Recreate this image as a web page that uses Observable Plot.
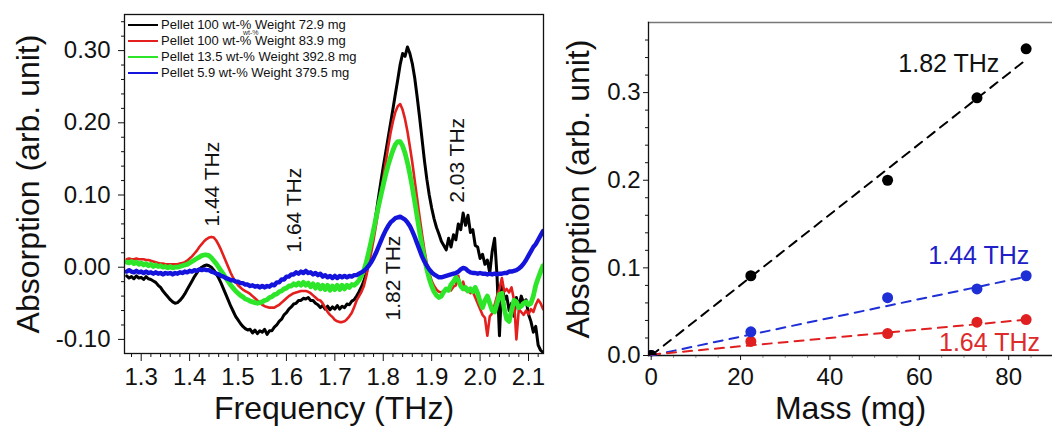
<!DOCTYPE html>
<html><head><meta charset="utf-8">
<script src="https://cdn.jsdelivr.net/npm/d3@7"></script>
<script src="https://cdn.jsdelivr.net/npm/@observablehq/plot@0.6"></script>
<style>
body{margin:0;background:#fff;font-family:"Liberation Sans",Arial,sans-serif;}
#wrap{position:relative;width:1052px;height:426px;display:flex;overflow:hidden;background:#fff}
#wrap svg{display:block}
.legend{position:absolute;left:128px;top:17px;font-size:13px;line-height:16px;color:#111;font-family:"Liberation Sans",Arial,sans-serif}
.legend div{display:flex;align-items:center;height:16px;white-space:nowrap}
.legend span.sw{display:inline-block;width:30px;height:2px;margin-right:3px}
.glitch{position:absolute;left:243px;top:29px;font-size:7px;color:#333;font-family:"Liberation Sans",Arial,sans-serif}
</style></head><body><div id="wrap"></div>
<script>
// ---------- Left panel: absorption spectra ----------
const freq = [1.270,1.275,1.280,1.285,1.290,1.295,1.300,1.305,1.310,1.315,
1.320,1.325,1.330,1.335,1.340,1.345,1.350,1.355,1.360,1.365,
1.370,1.375,1.380,1.385,1.390,1.395,1.400,1.405,1.410,1.415,
1.420,1.425,1.430,1.435,1.440,1.445,1.450,1.455,1.460,1.465,
1.470,1.475,1.480,1.485,1.490,1.495,1.500,1.505,1.510,1.515,
1.520,1.525,1.530,1.535,1.540,1.545,1.550,1.555,1.560,1.565,
1.570,1.575,1.580,1.585,1.590,1.595,1.600,1.605,1.610,1.615,
1.620,1.625,1.630,1.635,1.640,1.645,1.650,1.655,1.660,1.665,
1.670,1.675,1.680,1.685,1.690,1.695,1.700,1.705,1.710,1.715,
1.720,1.725,1.730,1.735,1.740,1.745,1.750,1.755,1.760,1.765,
1.770,1.775,1.780,1.785,1.790,1.795,1.800,1.805,1.810,1.815,
1.820,1.825,1.830,1.835,1.840,1.845,1.850,1.855,1.860,1.865,
1.870,1.875,1.880,1.885,1.890,1.895,1.900,1.905,1.910,1.915,
1.920,1.925,1.930,1.935,1.940,1.945,1.950,1.955,1.960,1.965,
1.970,1.975,1.980,1.985,1.990,1.995,2.000,2.005,2.010,2.015,
2.020,2.025,2.030,2.035,2.040,2.045,2.050,2.055,2.060,2.065,
2.070,2.075,2.080,2.085,2.090,2.095,2.100,2.105,2.110,2.115,
2.120,2.125,2.130];

const absP100w729 = [-0.012,-0.015,-0.013,-0.016,-0.012,-0.015,-0.014,-0.017,-0.013,-0.016,
-0.017,-0.019,-0.021,-0.025,-0.028,-0.033,-0.037,-0.041,-0.045,-0.048,
-0.050,-0.049,-0.046,-0.042,-0.037,-0.031,-0.025,-0.019,-0.013,-0.008,
-0.003,0.000,0.002,0.003,0.002,0.000,-0.004,-0.009,-0.015,-0.022,
-0.030,-0.038,-0.046,-0.054,-0.061,-0.068,-0.073,-0.078,-0.082,-0.085,
-0.087,-0.086,-0.091,-0.087,-0.092,-0.088,-0.090,-0.086,-0.093,-0.088,
-0.088,-0.083,-0.080,-0.075,-0.072,-0.066,-0.063,-0.058,-0.055,-0.051,
-0.050,-0.046,-0.046,-0.043,-0.044,-0.042,-0.046,-0.046,-0.050,-0.052,
-0.056,-0.053,-0.058,-0.054,-0.059,-0.055,-0.058,-0.053,-0.058,-0.054,
-0.056,-0.051,-0.052,-0.047,-0.045,-0.040,-0.034,-0.027,-0.019,-0.008,
0.008,0.028,0.050,0.073,0.096,0.118,0.139,0.159,0.179,0.199,
0.219,0.240,0.260,0.281,0.296,0.292,0.305,0.296,0.282,0.262,
0.236,0.208,0.178,0.148,0.122,0.100,0.082,0.067,0.055,0.046,
0.036,0.030,0.024,0.040,0.028,0.045,0.038,0.060,0.052,0.075,
0.058,0.072,0.048,0.052,0.030,0.028,0.012,0.018,0.004,0.010,
-0.008,0.022,0.040,-0.012,-0.095,-0.020,-0.045,-0.040,-0.060,-0.050,
-0.068,-0.042,-0.055,-0.040,-0.050,-0.045,-0.065,-0.075,-0.090,-0.082,
-0.108,-0.115,-0.118];

const absP100w839 = [0.011,0.012,0.011,0.011,0.012,0.011,0.011,0.011,0.010,0.010,
0.009,0.008,0.007,0.006,0.005,0.005,0.004,0.004,0.004,0.004,
0.004,0.004,0.005,0.006,0.007,0.009,0.012,0.015,0.019,0.023,
0.028,0.032,0.036,0.039,0.041,0.042,0.041,0.037,0.031,0.024,
0.016,0.008,0.000,-0.008,-0.015,-0.020,-0.025,-0.028,-0.031,-0.033,
-0.035,-0.037,-0.040,-0.043,-0.046,-0.049,-0.052,-0.054,-0.055,-0.056,
-0.056,-0.056,-0.054,-0.052,-0.049,-0.046,-0.043,-0.040,-0.038,-0.036,
-0.035,-0.034,-0.033,-0.033,-0.033,-0.034,-0.036,-0.039,-0.042,-0.045,
-0.046,-0.050,-0.056,-0.062,-0.066,-0.069,-0.073,-0.075,-0.076,-0.076,
-0.075,-0.072,-0.068,-0.063,-0.055,-0.046,-0.040,-0.034,-0.026,-0.012,
0.004,0.020,0.038,0.058,0.079,0.101,0.123,0.145,0.166,0.186,
0.202,0.215,0.223,0.226,0.218,0.205,0.188,0.167,0.145,0.120,
0.095,0.070,0.046,0.024,0.005,-0.008,-0.019,-0.026,-0.031,-0.034,
-0.035,-0.033,-0.030,-0.029,-0.032,-0.027,-0.025,-0.012,-0.028,-0.020,
-0.032,-0.030,-0.036,-0.034,-0.042,-0.050,-0.058,-0.066,-0.070,-0.095,
-0.068,-0.064,-0.052,-0.040,-0.030,-0.015,-0.034,-0.030,-0.035,-0.028,
-0.045,-0.100,-0.058,-0.062,-0.066,-0.060,-0.065,-0.058,-0.062,-0.052,
-0.045,-0.050,-0.058];

const absP135w3928 = [0.007,0.006,0.008,0.005,0.007,0.004,0.006,0.003,0.005,0.002,
0.004,0.001,0.003,0.001,0.002,0.000,0.001,-0.001,0.001,-0.001,
0.000,0.000,0.001,0.002,0.003,0.004,0.006,0.008,0.010,0.012,
0.014,0.016,0.017,0.017,0.016,0.013,0.009,0.005,0.000,-0.005,
-0.010,-0.015,-0.020,-0.025,-0.029,-0.033,-0.036,-0.039,-0.041,-0.044,
-0.045,-0.047,-0.048,-0.049,-0.050,-0.049,-0.048,-0.046,-0.045,-0.042,
-0.041,-0.038,-0.037,-0.034,-0.033,-0.030,-0.029,-0.026,-0.026,-0.023,
-0.025,-0.022,-0.025,-0.021,-0.025,-0.022,-0.027,-0.023,-0.029,-0.024,
-0.030,-0.025,-0.031,-0.025,-0.032,-0.026,-0.031,-0.025,-0.031,-0.025,
-0.030,-0.025,-0.028,-0.024,-0.025,-0.022,-0.018,-0.012,-0.004,0.007,
0.021,0.036,0.052,0.068,0.084,0.099,0.114,0.128,0.141,0.152,
0.162,0.170,0.174,0.174,0.168,0.158,0.145,0.129,0.111,0.091,
0.070,0.049,0.030,0.012,-0.003,-0.016,-0.026,-0.034,-0.039,-0.042,
-0.040,-0.034,-0.030,-0.032,-0.024,-0.020,-0.014,-0.018,-0.026,-0.030,
-0.028,-0.033,-0.030,-0.034,-0.028,-0.036,-0.048,-0.056,-0.046,-0.040,
-0.050,-0.060,-0.062,-0.050,-0.038,-0.036,-0.058,-0.072,-0.075,-0.060,
-0.046,-0.048,-0.056,-0.054,-0.050,-0.048,-0.052,-0.050,-0.040,-0.025,
-0.015,-0.006,0.002];

const absP59w3795 = [-0.006,-0.004,-0.006,-0.007,-0.005,-0.007,-0.006,-0.008,-0.006,-0.008,
-0.007,-0.009,-0.007,-0.009,-0.008,-0.010,-0.008,-0.009,-0.008,-0.010,
-0.008,-0.009,-0.007,-0.008,-0.006,-0.007,-0.005,-0.006,-0.004,-0.005,
-0.003,-0.004,-0.003,-0.004,-0.004,-0.006,-0.007,-0.009,-0.010,-0.012,
-0.013,-0.015,-0.016,-0.018,-0.018,-0.020,-0.020,-0.022,-0.022,-0.024,
-0.024,-0.026,-0.025,-0.027,-0.026,-0.028,-0.026,-0.028,-0.026,-0.027,
-0.024,-0.025,-0.021,-0.021,-0.017,-0.017,-0.013,-0.013,-0.010,-0.010,
-0.007,-0.009,-0.006,-0.008,-0.005,-0.008,-0.007,-0.010,-0.008,-0.011,
-0.009,-0.013,-0.011,-0.014,-0.012,-0.015,-0.012,-0.015,-0.012,-0.014,
-0.012,-0.014,-0.012,-0.013,-0.011,-0.011,-0.009,-0.007,-0.005,-0.002,
0.002,0.007,0.013,0.020,0.028,0.036,0.044,0.051,0.057,0.062,
0.065,0.068,0.069,0.070,0.068,0.066,0.062,0.057,0.050,0.042,
0.033,0.024,0.015,0.008,0.002,-0.003,-0.007,-0.010,-0.012,-0.014,
-0.014,-0.013,-0.012,-0.011,-0.010,-0.009,-0.008,-0.006,-0.003,-0.001,
-0.002,-0.005,-0.007,-0.008,-0.008,-0.009,-0.008,-0.009,-0.009,-0.010,
-0.009,-0.010,-0.009,-0.010,-0.009,-0.009,-0.008,-0.008,-0.006,-0.006,
-0.005,-0.004,-0.002,0.001,0.005,0.010,0.016,0.022,0.028,0.032,
0.038,0.044,0.050];

const seriesNames = ["Pellet 100 wt-% Weight 72.9 mg","Pellet 100 wt-% Weight 83.9 mg","Pellet 13.5 wt-% Weight 392.8 mg","Pellet 5.9 wt-% Weight 379.5 mg"];
const seriesColors = ["#000000","#e3201e","#2de62a","#1414dc"];
const seriesWidths = [3, 2.6, 4.8, 4.4];
const seriesValues = [absP100w729, absP100w839, absP135w3928, absP59w3795];

const freqTicks = [1.3,1.4,1.5,1.6,1.7,1.8,1.9,2.0,2.1];
const absTicksL = [-0.1,0,0.1,0.2,0.3];
const peakLabelsL = ["1.44 THz","1.64 THz","1.82 THz","2.03 THz"];
const peakLabelF = [1.447, 1.617, 1.820, 1.952];
const peakLabelV = [0.115, 0.079, -0.015, 0.148];

// ---------- Right panel: absorption vs mass ----------
const mass = [0, 22.3, 52.9, 72.9, 83.9];
const abs182 = [0, 0.091, 0.200, 0.294, 0.350];
const abs144 = [0, 0.027, 0.066, 0.076, 0.091];
const abs164 = [0, 0.016, 0.025, 0.038, 0.041];
const fitMass = [0, 84];
const fit182 = [0, 0.338];
const fit144 = [0, 0.090];
const fit164 = [0.001, 0.041];
const massTicks = [0,20,40,60,80];
const absTicksR = [0,0.1,0.2,0.3];
const rightLabels = ["1.82 THz","1.44 THz","1.64 THz"];
const rightLabelX = [66.6, 73.3, 75.7];
const rightLabelY = [0.333, 0.114, 0.0137];
const rightColors = ["#111111","#2020c8","#dd2a2a"];

const FONT = '"Liberation Sans", Arial, sans-serif';

// build tables
const spectra = seriesValues.map((vals, k) => freq.map((f, i) => ({f, v: vals[i], s: seriesNames[k]})));
const leftLab = peakLabelsL.map((t, i) => ({t, f: peakLabelF[i], v: peakLabelV[i]}));
const freqMinor = d3.range(1.28, 2.131, 0.02).filter(v => Math.abs(Math.round(v*10) - v*10) > 1e-6);
const absMinorL = d3.range(-0.1, 0.351, 0.02).filter(v => Math.abs(Math.round(v*10) - v*10) > 1e-6);

const left = Plot.plot({
  width: 548, height: 426,
  marginLeft: 124, marginRight: 5, marginTop: 14, marginBottom: 73,
  style: {fontFamily: FONT, color: "#111", background: "transparent", overflow: "visible"},
  x: {domain: [1.2655, 2.131]},
  y: {domain: [-0.1195, 0.35]},
  marks: [
    Plot.axisX({ticks: freqTicks, tickSize: 8, tickPadding: 6, fontSize: 24, label: null, tickFormat: d => d.toFixed(1)}),
    Plot.axisX({ticks: freqMinor, tickSize: 4, tickFormat: () => "", label: null}),
    Plot.axisY({ticks: absTicksL, tickSize: 6, tickPadding: 8, fontSize: 24, label: null, tickFormat: d => d.toFixed(2)}),
    Plot.axisY({ticks: absMinorL, tickSize: 3, tickFormat: () => "", label: null}),
    ...spectra.map((data, k) => Plot.line(data, {x: "f", y: "v", stroke: seriesColors[k], strokeWidth: seriesWidths[k], clip: true, strokeLinejoin: "round"})),
    Plot.frame({stroke: "#111", strokeWidth: 1.3}),
    Plot.text(leftLab, {x: "f", y: "v", text: "t", rotate: -90, fontSize: 21, fill: "#111"}),
    Plot.text(["Frequency (THz)"], {frameAnchor: "bottom", textAnchor: "middle", lineAnchor: "middle", dy: 55, fontSize: 32, fill: "#111"}),
    Plot.text(["Absorption (arb. unit)"], {frameAnchor: "left", textAnchor: "middle", lineAnchor: "middle", dx: -96, rotate: -90, fontSize: 32, fill: "#111"})
  ]
});

const pts = [abs182, abs144, abs164];
const fits = [fit182, fit144, fit164];
const ptColors = ["#000000","#1f2fd6","#e02020"];
const pointSets = [2,1,0].map(k => mass.map((m, i) => ({m, a: pts[k][i], k})));
const fitSets = [0,1,2].map(k => fitMass.map((m, i) => ({m, a: fits[k][i]})));
const rLab = rightLabels.map((t, i) => ({t, m: rightLabelX[i], a: rightLabelY[i], c: rightColors[i]}));
const massMinor = d3.range(5, 90, 5).filter(v => v % 20 !== 0);
const absMinorR = d3.range(0.02, 0.38, 0.02).filter(v => Math.abs(Math.round(v*10) - v*10) > 1e-6);

const right = Plot.plot({
  width: 504, height: 426,
  marginLeft: 100, marginRight: 0, marginTop: 22, marginBottom: 71,
  style: {fontFamily: FONT, color: "#111", background: "transparent", overflow: "visible"},
  x: {domain: [-0.6, 89.8]},
  y: {domain: [0, 0.38]},
  marks: [
    Plot.axisX({ticks: massTicks, tickSize: 5, tickPadding: 7, fontSize: 24, label: null}),
    Plot.axisX({ticks: massMinor, tickSize: 3, tickFormat: () => "", label: null, stroke: "#999"}),
    Plot.axisY({ticks: absTicksR, tickSize: 5, tickPadding: 3, fontSize: 24, label: null, tickFormat: d => d.toFixed(1)}),
    Plot.axisY({ticks: absMinorR, tickSize: 3, tickFormat: () => "", label: null}),
    Plot.frame({anchor: "top", stroke: "#777", strokeWidth: 1.3}),
    Plot.frame({anchor: "left", stroke: "#111", strokeWidth: 1.3}),
    Plot.frame({anchor: "bottom", stroke: "#111", strokeWidth: 1.3}),
    ...fitSets.map((data, k) => Plot.line(data, {x: "m", y: "a", stroke: ptColors[k], strokeWidth: 2, strokeDasharray: "9,7"})),
    ...pointSets.map(data => Plot.dot(data, {x: "m", y: "a", r: 5.5, fill: d => ptColors[d.k], stroke: null, clip: true})),
    Plot.text(rLab, {x: "m", y: "a", text: "t", fill: "c", fontSize: 25}),
    Plot.text(["Mass (mg)"], {frameAnchor: "bottom", textAnchor: "middle", lineAnchor: "middle", dy: 53, fontSize: 32, fill: "#111"}),
    Plot.text(["Absorption (arb. unit)"], {frameAnchor: "left", textAnchor: "middle", lineAnchor: "middle", dx: -70, rotate: -90, fontSize: 32, fill: "#111"})
  ]
});

const wrap = document.getElementById("wrap");
wrap.appendChild(left);
wrap.appendChild(right);

// legend inside left panel
const leg = document.createElement("div");
leg.className = "legend";
seriesNames.forEach((n, k) => {
  const row = document.createElement("div");
  const sw = document.createElement("span");
  sw.className = "sw"; sw.style.background = seriesColors[k];
  row.appendChild(sw);
  row.appendChild(document.createTextNode(n));
  leg.appendChild(row);
});
wrap.appendChild(leg);
const gl = document.createElement("div");
gl.className = "glitch";
gl.textContent = "wt-%";
wrap.appendChild(gl);
</script></body></html>
